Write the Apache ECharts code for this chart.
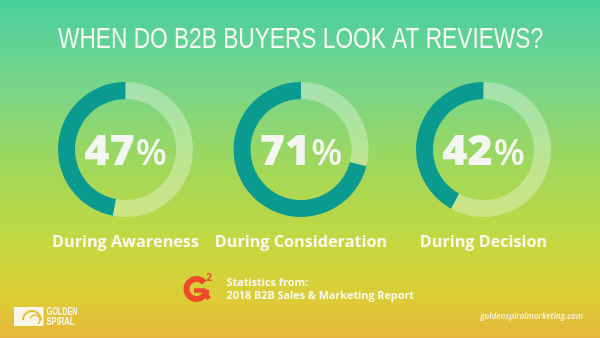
<!DOCTYPE html>
<html>
<head>
<meta charset="utf-8">
<script src="https://cdn.jsdelivr.net/npm/echarts@6/dist/echarts.min.js"></script>
<style>
  html, body { margin: 0; padding: 0; }
  #chart { width: 600px; height: 338px; }
</style>
</head>
<body>
<div id="chart"></div>
<script>
// Share of B2B buyers who look at reviews, by buying stage
const stages = ['During Awareness', 'During Consideration', 'During Decision'];
const shares = [47, 71, 42];

const titleText = 'WHEN DO B2B BUYERS LOOK AT REVIEWS?';
const centersX = [125.5, 301, 483.5];
const ringColor = '#0a9a8f';
const trackColor = 'rgba(255,255,255,0.32)';

// squeeze a line of text horizontally so it fills a given width
const measureCtx = document.createElement('canvas').getContext('2d');
function squeeze(text, font, width) {
  measureCtx.font = font;
  return width / measureCtx.measureText(text).width;
}

const chart = echarts.init(document.getElementById('chart'), null, { renderer: 'canvas' });

const pieSeries = shares.map((v, i) => ({
  type: 'pie',
  center: [centersX[i], 149.5],
  radius: [50.5, 67.5],
  startAngle: 90,
  clockwise: false,
  silent: true,
  label: { show: false },
  labelLine: { show: false },
  itemStyle: { borderWidth: 0 },
  data: [
    { value: v, itemStyle: { color: ringColor } },
    { value: 100 - v, itemStyle: { color: trackColor } }
  ]
}));

const centreTexts = shares.map((v, i) => ({
  type: 'text',
  x: centersX[i], y: 153,
  style: {
    text: '{n|' + v + '}{p|%}',
    align: 'center', verticalAlign: 'middle',
    rich: {
      n: { fontFamily: '"Open Sans", sans-serif', fontWeight: 800, fontSize: 43, fill: '#f4f6f1' },
      p: { fontFamily: '"Open Sans", sans-serif', fontWeight: 600, fontSize: 36, fill: '#f4f6f1', padding: [3, 0, 0, 1] }
    }
  }
}));
const captionTexts = stages.map((s, i) => ({
  type: 'text',
  x: centersX[i], y: 242.5,
  style: {
    text: s, align: 'center', verticalAlign: 'middle',
    font: '700 16.2px "Open Sans", sans-serif', fill: '#f7f8f0'
  }
}));

const titleFont = '400 29px "Liberation Sans", Arial, sans-serif';
const logoFont = '700 10.5px "Liberation Sans", Arial, sans-serif';

chart.setOption({
  backgroundColor: {
    type: 'linear', x: 0, y: 0, x2: 0, y2: 1,
    colorStops: [
      { offset: 0, color: '#49cf9f' },
      { offset: 0.25, color: '#78d58a' },
      { offset: 0.5, color: '#a1d85a' },
      { offset: 0.72, color: '#c5d840' },
      { offset: 0.88, color: '#dccd36' },
      { offset: 1, color: '#e7b63c' }
    ]
  },
  series: pieSeries,
  graphic: [
    {
      type: 'text', x: 300.5, y: 39.5,
      scaleX: squeeze(titleText, titleFont, 485),
      style: { text: titleText, font: titleFont, fill: '#f5f7f2', align: 'center', verticalAlign: 'middle' }
    },
    ...centreTexts,
    ...captionTexts,
    // G2 badge
    {
      type: 'arc', shape: { cx: 196.5, cy: 289, r: 10, startAngle: -Math.PI * 0.22, endAngle: -Math.PI * 1.98, clockwise: false },
      style: { stroke: '#ef4a2c', lineWidth: 6, fill: null, lineCap: 'butt' }
    },
    {
      type: 'polyline', shape: { points: [[194, 290.5], [204, 290.5], [209, 299]] },
      style: { stroke: '#ef4a2c', lineWidth: 4.5, fill: null, lineJoin: 'miter' }
    },
    {
      type: 'text', x: 209, y: 278,
      style: { text: '2', font: '700 10px "Open Sans", sans-serif', fill: '#ef4a2c', align: 'center', verticalAlign: 'middle' }
    },
    {
      type: 'text', x: 226.5, y: 283,
      style: { text: 'Statistics from:', font: '700 10.8px "Open Sans", sans-serif', fill: '#f7f8ee', verticalAlign: 'middle' }
    },
    {
      type: 'text', x: 226.5, y: 295.5,
      style: { text: '2018 B2B Sales & Marketing Report', font: '700 10.8px "Open Sans", sans-serif', fill: '#f7f8ee', verticalAlign: 'middle' }
    },
    // Golden Spiral mark
    { type: 'rect', shape: { x: 14, y: 307, width: 29.5, height: 19 }, style: { fill: '#f8f6e8' } },
    {
      type: 'arc', shape: { cx: 32, cy: 320, r: 9, startAngle: Math.PI, endAngle: Math.PI * 2 },
      style: { stroke: '#e0c02c', lineWidth: 2, fill: null }
    },
    {
      type: 'arc', shape: { cx: 35, cy: 320, r: 5, startAngle: Math.PI * 1.1, endAngle: Math.PI * 2.3 },
      style: { stroke: '#e0c02c', lineWidth: 1.6, fill: null }
    },
    {
      type: 'text', x: 46.5, y: 312.5, scaleX: squeeze('GOLDEN', logoFont, 31),
      style: { text: 'GOLDEN', font: logoFont, fill: '#f8f6e8', verticalAlign: 'middle' }
    },
    {
      type: 'text', x: 46.5, y: 322, scaleX: squeeze('SPIRAL', logoFont, 28),
      style: { text: 'SPIRAL', font: logoFont, fill: '#f8f6e8', verticalAlign: 'middle' }
    },
    {
      type: 'text', x: 583, y: 317,
      style: { text: 'goldenspiralmarketing.com', font: 'italic 600 8.2px "Open Sans", sans-serif', fill: '#f6f3e0', align: 'right', verticalAlign: 'middle' }
    }
  ]
});
</script>
</body>
</html>
